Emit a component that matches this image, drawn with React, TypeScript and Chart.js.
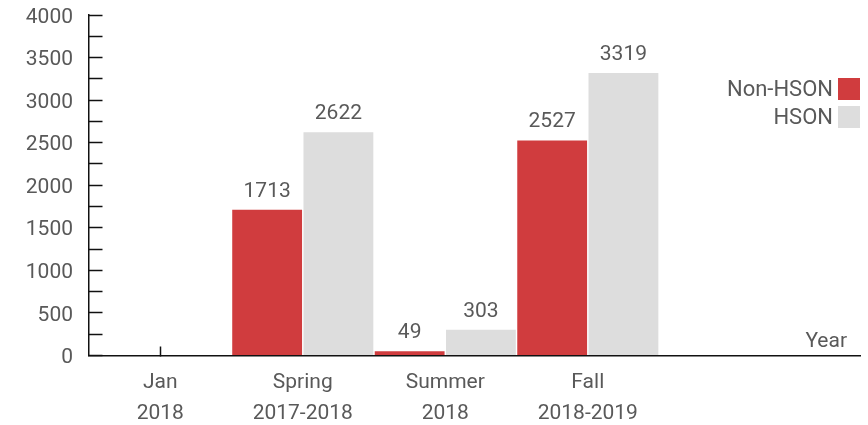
import React, { useEffect, useRef } from 'react';
import { Chart, registerables } from 'chart.js';

Chart.register(...registerables);

// ---- data ----
const categories: string[][] = [
  ['Jan', '2018'],
  ['Spring', '2017-2018'],
  ['Summer', '2018'],
  ['Fall', '2018-2019'],
];
const nonHsonValues: (number | null)[] = [null, 1713, 49, 2527];
const hsonValues: (number | null)[] = [null, 2622, 303, 3319];
const seriesNames = ['Non-HSON', 'HSON'];
const seriesColors = ['#d03c3e', '#dddddd'];
const yMin = 0;
const yMax = 4000;
const yTickStep = 250;
const yLabelStep = 500;
const xAxisTitle = 'Year';

const FONT = 'Roboto';
const TEXT = '#595959';
const AXIS = '#111111';

const toPoints = (vals: (number | null)[]) =>
  vals.map((v, i) => ({ x: i, y: v })).filter((p) => p.y !== null);

const valueLabelPlugin = {
  id: 'valueLabels',
  afterDatasetsDraw(chart: any) {
    const ctx = chart.ctx;
    ctx.save();
    ctx.font = `21px ${FONT}`;
    ctx.fillStyle = TEXT;
    ctx.textAlign = 'center';
    ctx.textBaseline = 'alphabetic';
    chart.data.datasets.forEach((ds: any, di: number) => {
      const meta = chart.getDatasetMeta(di);
      meta.data.forEach((el: any, i: number) => {
        const p = ds.data[i];
        if (!p || p.y == null) return;
        ctx.fillText(String(p.y), el.x, el.y - 13);
      });
    });
    ctx.restore();
  },
};

const legendPlugin = {
  id: 'sideLegend',
  afterDraw(chart: any) {
    const ctx = chart.ctx;
    const right = chart.chartArea.right;
    ctx.save();
    ctx.font = `22px ${FONT}`;
    ctx.textAlign = 'right';
    ctx.textBaseline = 'middle';
    chart.data.datasets.forEach((ds: any, i: number) => {
      const top = 78 + i * 28;
      ctx.fillStyle = ds.backgroundColor;
      ctx.fillRect(right - 22, top, 22, 22);
      ctx.fillStyle = TEXT;
      ctx.fillText(ds.label, right - 27, top + 12);
    });
    ctx.restore();
  },
};

const axisTitlePlugin = {
  id: 'axisTitle',
  afterDraw(chart: any) {
    const ctx = chart.ctx;
    const { right, bottom } = chart.chartArea;
    ctx.save();
    ctx.font = `21px ${FONT}`;
    ctx.fillStyle = TEXT;
    ctx.textAlign = 'right';
    ctx.textBaseline = 'alphabetic';
    ctx.fillText(xAxisTitle, right - 13, bottom - 9);
    ctx.restore();
  },
};

export default function App() {
  const ref = useRef<HTMLCanvasElement>(null);

  useEffect(() => {
    if (!ref.current) return;
    const chart = new Chart(ref.current, {
      type: 'bar',
      data: {
        datasets: [
          {
            label: seriesNames[0],
            data: toPoints(nonHsonValues) as any,
            backgroundColor: seriesColors[0],
            borderWidth: 0,
            barPercentage: 0.98,
            categoryPercentage: 1,
          },
          {
            label: seriesNames[1],
            data: toPoints(hsonValues) as any,
            backgroundColor: seriesColors[1],
            borderWidth: 0,
            barPercentage: 0.98,
            categoryPercentage: 1,
          },
        ],
      },
      plugins: [valueLabelPlugin, legendPlugin, axisTitlePlugin],
      options: {
        animation: false,
        responsive: false,
        maintainAspectRatio: false,
        layout: { padding: { top: 15, right: 8, bottom: 0, left: 0 } },
        plugins: {
          legend: { display: false },
          tooltip: { enabled: false },
          title: { display: false },
        },
        scales: {
          x: {
            type: 'linear',
            min: -0.5,
            max: 4.91,
            offset: false,
            afterFit: (s: any) => {
              s.height = 69.5;
              s.paddingLeft = 0;
              s.paddingRight = 0;
            },
            grid: {
              display: true,
              offset: false,
              drawOnChartArea: false,
              drawTicks: true,
              tickLength: -9,
              tickWidth: 1.5,
              tickColor: (c: any) => (c.tick && c.tick.value === 0 ? AXIS : 'rgba(0,0,0,0)'),
            },
            border: { display: true, color: AXIS, width: 1.5 },
            ticks: {
              stepSize: 1,
              includeBounds: false,
              autoSkip: false,
              maxRotation: 0,
              minRotation: 0,
              padding: 20.5,
              color: TEXT,
              font: { family: FONT, size: 21, lineHeight: 1.48 },
              callback: (value: any) => {
                const i = Math.round(Number(value));
                if (Math.abs(Number(value) - i) > 1e-6) return '';
                return i >= 0 && i < categories.length ? categories[i] : '';
              },
            },
          } as any,
          y: {
            type: 'linear',
            min: yMin,
            max: yMax,
            afterFit: (s: any) => {
              s.width = 89;
              s.paddingTop = 0;
              s.paddingBottom = 0;
            },
            grid: {
              display: true,
              drawOnChartArea: false,
              drawTicks: true,
              tickLength: -13.5,
              tickWidth: 1.5,
              tickColor: AXIS,
            },
            border: { display: true, color: AXIS, width: 1.5 },
            ticks: {
              stepSize: yTickStep,
              autoSkip: false,
              padding: 29.5,
              labelOffset: 2.4,
              color: TEXT,
              font: { family: FONT, size: 21 },
              callback: (value: any) => (Number(value) % yLabelStep === 0 ? String(value) : ''),
            },
          } as any,
        },
      },
    });
    return () => chart.destroy();
  }, []);

  return (
    <div style={{ position: 'fixed', left: 0, top: 0, width: 868, height: 425, background: '#fff' }}>
      <canvas ref={ref} width={868} height={425} style={{ display: 'block', width: 868, height: 425 }} />
    </div>
  );
}
